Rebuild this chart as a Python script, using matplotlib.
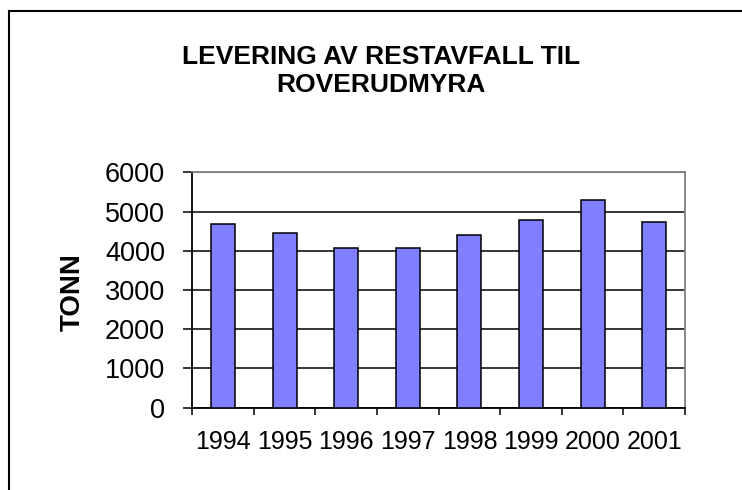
import matplotlib
matplotlib.use("Agg")
import matplotlib.pyplot as plt
from matplotlib.lines import Line2D

# Data
years = ["1994", "1995", "1996", "1997", "1998", "1999", "2000", "2001"]
tonn = [4685, 4465, 4065, 4065, 4405, 4785, 5290, 4735]
y_ticks = [0, 1000, 2000, 3000, 4000, 5000, 6000]

plt.rcParams['font.family'] = ['Liberation Sans', 'DejaVu Sans']

fig = plt.figure(figsize=(7.42, 4.9), dpi=100)
ax = fig.add_axes([0.2592, 0.1680, 0.6640, 0.4804])

x = list(range(len(years)))
ax.set_axisbelow(True)
ax.yaxis.grid(True, color='black', linewidth=1.1)
ax.bar(x, tonn, width=0.39, color='#8080FF', edgecolor='black', linewidth=1.1, zorder=3)

ax.set_xlim(-0.5, len(years) - 0.5)
ax.set_ylim(0, 6000)
ax.set_yticks(y_ticks)
ax.set_yticklabels([str(v) for v in y_ticks], fontsize=19.5)
ax.tick_params(axis='y', direction='out', length=6.5, width=1.1, pad=13)

# ticks between categories, labels centred under bars
ax.set_xticks([i - 0.5 for i in range(len(years) + 1)])
ax.set_xticklabels([])
ax.tick_params(axis='x', which='major', direction='out', length=5, width=1.1)
ax.set_xticks(x, minor=True)
ax.set_xticklabels(years, minor=True, fontsize=18)
ax.tick_params(axis='x', which='minor', length=0, pad=16)

ax.set_ylabel("TONN", fontsize=20, fontweight='bold')
ax.yaxis.set_label_coords(-0.216, 0.49)

for side in ['left', 'bottom']:
    ax.spines[side].set_color('black')
    ax.spines[side].set_linewidth(1.3)
for side in ['top', 'right']:
    ax.spines[side].set_color('#808080')
    ax.spines[side].set_linewidth(1.3)

fig.text(0.5135, 0.8843, "LEVERING AV RESTAVFALL TIL", ha='center', va='center',
         fontsize=19, fontweight='bold')
fig.text(0.5135, 0.8265, "ROVERUDMYRA", ha='center', va='center',
         fontsize=19, fontweight='bold')

# outer chart frame (only left and top edges visible)
fx = 8.5 / 742
fy = 1 - 11.5 / 490
fig.add_artist(Line2D([fx, fx], [0, fy], transform=fig.transFigure, color='black', linewidth=1.5))
fig.add_artist(Line2D([fx, 1], [fy, fy], transform=fig.transFigure, color='black', linewidth=1.5))

fig.savefig("out.png", dpi=100)
